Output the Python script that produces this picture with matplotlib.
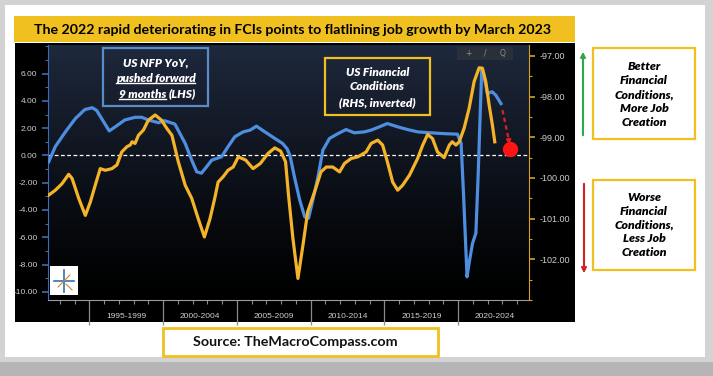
import numpy as np
import matplotlib.pyplot as plt
from matplotlib.patches import Rectangle, FancyArrowPatch
from matplotlib.lines import Line2D
from matplotlib.ticker import MultipleLocator, FixedLocator, FuncFormatter
import matplotlib.transforms as mtransforms

# US NFP YoY, pushed forward 9 months (LHS, %)
nfp_x = [1992.25, 1992.7, 1993.4, 1994.05, 1994.7, 1995.2, 1995.5, 1995.97, 1996.35, 1996.76,
         1997.4, 1998.1, 1998.56, 1999.0, 1999.7, 2000.1, 2000.8, 2001.5, 2001.94, 2002.28,
         2002.6, 2002.95, 2003.3, 2003.96, 2004.4, 2004.86, 2005.43, 2005.9, 2006.33, 2006.8,
         2007.57, 2008.1, 2008.4, 2008.6, 2008.9, 2009.26, 2009.6, 2009.86, 2010.15, 2010.5,
         2010.83, 2011.28, 2011.85, 2012.4, 2012.97, 2013.65, 2014.1, 2014.55, 2015.2, 2015.9,
         2016.57, 2017.25, 2018.15, 2019.05, 2019.95, 2020.2, 2020.36, 2020.6, 2020.74, 2020.97,
         2021.2, 2021.35, 2021.5, 2021.6, 2021.76, 2021.98, 2022.3, 2022.55, 2022.9]
nfp_y = [-0.46, 0.66, 1.76, 2.7, 3.37, 3.5, 3.3, 2.47, 1.8, 2.1,
         2.6, 2.8, 2.8, 2.6, 2.4, 2.55, 2.3, 0.88, -0.34, -1.2,
         -1.3, -0.83, -0.34, -0.1, 0.64, 1.37, 1.73, 1.86, 2.15, 1.8,
         1.25, 0.88, 0.5, 0.0, -1.56, -3.27, -4.5, -4.6, -3.27, -1.56,
         0.39, 1.25, 1.6, 1.9, 1.66, 1.73, 1.86, 2.05, 2.34, 2.1,
         1.9, 1.73, 1.66, 1.6, 1.56, 0.88, -2.78, -8.9, -7.9, -6.45,
         -5.7, -1.56, 3.3, 6.37, 5.77, 4.54, 4.67, 4.42, 3.8]

# US Financial Conditions (RHS, inverted)
fci_x = [1992.25, 1992.7, 1993.15, 1993.6, 1993.83, 1994.28, 1994.73, 1995.07, 1995.4, 1995.74,
         1996.08, 1996.53, 1996.87, 1997.2, 1997.55, 1997.77, 1997.9, 1998.1, 1998.33, 1998.67,
         1999.0, 1999.46, 1999.9, 2000.25, 2000.6, 2001.03, 2001.5, 2001.94, 2002.38, 2002.8,
         2003.18, 2003.5, 2003.73, 2004.07, 2004.4, 2004.75, 2005.1, 2005.6, 2006.1, 2006.6,
         2007.1, 2007.57, 2007.97, 2008.3, 2008.5, 2008.8, 2009.14, 2009.48, 2009.8, 2010.27,
         2010.7, 2011.06, 2011.5, 2011.96, 2012.3, 2012.75, 2013.2, 2013.76, 2014.1, 2014.55,
         2014.88, 2015.2, 2015.56, 2015.9, 2016.23, 2016.7, 2017.25, 2017.6, 2017.93, 2018.26,
         2018.6, 2019.05, 2019.4, 2019.6, 2019.85, 2020.07, 2020.4, 2020.74, 2021.08, 2021.42,
         2021.64, 2021.87, 2022.1, 2022.32, 2022.48]
fci_y = [-100.42, -100.3, -100.14, -99.91, -100.01, -100.5, -100.92, -100.59, -100.18, -99.77,
         -99.81, -99.77, -99.68, -99.36, -99.23, -99.19, -99.11, -99.15, -98.95, -98.82,
         -98.58, -98.45, -98.58, -98.78, -98.95, -99.6, -100.18, -100.5, -101.0, -101.45,
         -101.0, -100.5, -100.1, -99.97, -99.81, -99.73, -99.48, -99.56, -99.77, -99.64,
         -99.4, -99.26, -99.34, -99.6, -100.42, -101.49, -102.47, -101.65, -100.83, -100.34,
         -99.85, -99.73, -99.73, -99.85, -99.64, -99.52, -99.48, -99.36, -99.15, -99.07,
         -99.19, -99.6, -100.1, -100.3, -100.18, -99.93, -99.52, -99.19, -98.93, -99.03,
         -99.36, -99.5, -99.19, -99.11, -99.19, -99.11, -98.78, -98.29, -97.63, -97.29,
         -97.3, -97.63, -98.21, -98.7, -99.11]

# projected path (March 2023)
proj_x = [2023.0, 2023.45]
proj_y = [-98.33, -99.1]
dot_x, dot_y = 2023.5, -99.29

period_starts = [1995, 2000, 2005, 2010, 2015, 2020]
period_labels = ["1995-1999", "2000-2004", "2005-2009", "2010-2014", "2015-2019", "2020-2024"]

W, H = 713, 376
BLUE = "#4d8ee0"
ORANGE = "#f4b328"
YEL = "#f0c020"
LAB = "#cfcfcf"


def fx(px):
    return px / W


def fy(py):
    return 1 - py / H


fig = plt.figure(figsize=(7.13, 3.76), dpi=100, facecolor="#d3d3d3")


def box(x0, y0, x1, y1, fc, ec="none", lw=0, z=0):
    fig.add_artist(Rectangle((fx(x0), fy(y1)), fx(x1) - fx(x0), fy(y0) - fy(y1),
                             transform=fig.transFigure, facecolor=fc, edgecolor=ec,
                             linewidth=lw, zorder=z))


def fline(x0, y0, x1, y1, color, lw=1, z=5):
    fig.add_artist(Line2D([fx(x0), fx(x1)], [fy(y0), fy(y1)], transform=fig.transFigure,
                          color=color, lw=lw, zorder=z))


# card + panels
box(0, 362, 713, 376, "#b5b5b5")
box(5, 5, 705, 357, "white")
box(14, 16, 575, 42, YEL)
box(15, 43, 575, 322, "black")
box(163, 328, 438, 356, "white", ec=YEL, lw=2)

fig.text(fx(293), fy(29.5), "The 2022 rapid deteriorating in FCIs points to flatlining job growth by March 2023",
         family="Lato", weight="bold", fontsize=10.15, ha="center", va="center", color="black")
fig.text(fx(295), fy(342), "Source: TheMacroCompass.com", family="Lato", weight="bold",
         fontsize=10.3, ha="center", va="center", color="#111111")

# axes
ax = fig.add_axes([fx(48), fy(300), fx(529) - fx(48), fy(45) - fy(300)])
ax.set_facecolor("black")
grad = np.linspace(0, 1, 256)[:, None]
grad = np.dstack([0.12 * grad ** 1.2, 0.16 * grad ** 1.2, 0.24 * grad ** 1.2])
ax.imshow(grad, extent=[0, 1, 0, 1], transform=ax.transAxes, aspect="auto", origin="lower", zorder=0)

ax.plot(nfp_x, nfp_y, color=BLUE, lw=2.3, zorder=3, solid_joinstyle="round")
ax.axhline(0, color="white", lw=0.9, ls=(0, (3, 2)), zorder=2)
ax.set_xlim(1992.2, 2024.8)
ax.set_ylim(-10.6, 8.1)

ax2 = ax.twinx()
ax2.plot(fci_x, fci_y, color=ORANGE, lw=2.3, zorder=3, solid_joinstyle="round")
ax2.plot(proj_x, proj_y, color="#e02020", lw=1.6, ls=(0, (2, 1.5)), zorder=4)
ax2.annotate("", xy=(proj_x[1] + 0.02, proj_y[1] - 0.08), xytext=(proj_x[1] - 0.03, proj_y[1] + 0.05),
             arrowprops=dict(arrowstyle="-|>", color="#e02020", lw=1.2, mutation_scale=7))
ax2.plot(dot_x, dot_y, "o", color="#ff1414", ms=10, zorder=5)
ax2.set_ylim(-103.0, -96.73)

# spines / ticks
for s in ["top", "right"]:
    ax.spines[s].set_visible(False)
for s in ["top", "left", "bottom"]:
    ax2.spines[s].set_visible(False)
ax.spines["left"].set_color("#3a6db5")
ax.spines["bottom"].set_color("#9a9a9a")
ax2.spines["right"].set_color("#d9a020")

ax.yaxis.set_major_locator(FixedLocator(np.arange(-10, 7, 2)))
ax.yaxis.set_minor_locator(MultipleLocator(1))
ax.yaxis.set_major_formatter(FuncFormatter(lambda v, p: f"{v:.2f}"))
ax.tick_params(axis="y", which="major", colors="#3a6db5", labelcolor=LAB, labelsize=6,
               length=4, width=1.2, direction="out", labelfontfamily="Liberation Sans")
ax.tick_params(axis="y", which="minor", colors="#3a6db5", length=2, width=0.8)

ax2.yaxis.set_major_locator(FixedLocator(np.arange(-102, -96.5, 1)))
ax2.yaxis.set_minor_locator(MultipleLocator(0.5))
ax2.yaxis.set_major_formatter(FuncFormatter(lambda v, p: f"{v:.2f}"))
ax2.tick_params(axis="y", which="major", colors="#d9a020", labelcolor=LAB, labelsize=6.5,
                length=4, width=1.2, direction="out", labelfontfamily="Liberation Sans")
ax2.tick_params(axis="y", which="minor", colors="#d9a020", length=2, width=0.8)

ax.xaxis.set_major_locator(FixedLocator(period_starts))
ax.xaxis.set_minor_locator(MultipleLocator(1))
ax.tick_params(axis="x", which="major", colors="#8a8a8a", length=18, width=0.9, labelbottom=False)
ax.tick_params(axis="x", which="minor", colors="#8a8a8a", length=3, width=0.8)
trans = mtransforms.blended_transform_factory(ax.transData, ax.transAxes)
for start, lab in zip(period_starts, period_labels):
    ax.text(start + 2.5, -0.063, lab, transform=trans, ha="center", va="center",
            fontsize=6, color=LAB, family="Liberation Sans")

# logo
box(50, 266, 78, 295, "white", z=6)
fline(64, 270, 64, 292, "#2f6fb8", 1.2, 7)
fline(54, 281, 74, 281, "#2f6fb8", 1.2, 7)
fline(58, 287, 70, 275, "#e08020", 0.8, 7)
fline(66, 284, 72, 290, "#e08020", 0.8, 7)

# toolbar
box(457, 47, 513, 60, "#2a3039", z=6)
for px, g in zip([468, 485, 503], ["+", "/", "Q"]):
    fig.text(fx(px), fy(53.5), g, fontsize=5.5, color="#8a8f98", ha="center", va="center", zorder=7)

# series text boxes
box(103, 48, 208, 106, "none", ec="#5a8cc8", lw=1.6, z=6)
box(325, 58, 430, 115, "none", ec=YEL, lw=1.6, z=6)
tk = dict(family="Lato", weight="heavy", style="italic", fontsize=8.6, color="white",
          va="center", zorder=7)
fig.text(fx(155.5), fy(63), "US NFP YoY,", ha="center", **tk)
t_pf = fig.text(fx(155.5), fy(78), "pushed forward", ha="center", **tk)
t_9m = fig.text(fx(166), fy(94), "9 months", ha="right", **tk)
fig.text(fx(169), fy(94), "(LHS)", ha="left", **tk)
fig.text(fx(377.5), fy(72), "US Financial", ha="center", **tk)
fig.text(fx(377.5), fy(87), "Conditions", ha="center", **tk)
fig.text(fx(377.5), fy(103), "(RHS, inverted)", ha="center", **tk)

# right side annotations
box(593, 48, 695, 139, "white", ec=YEL, lw=1.6, z=6)
box(593, 180, 695, 270, "white", ec=YEL, lw=1.6, z=6)
ann = dict(family="Lato", weight="heavy", style="italic", fontsize=8.8, color="black",
           ha="center", va="center", linespacing=1.32, zorder=7)
fig.text(fx(644), fy(94.5), "Better\nFinancial\nConditions,\nMore Job\nCreation", **ann)
fig.text(fx(644), fy(225), "Worse\nFinancial\nConditions,\nLess Job\nCreation", **ann)
fig.add_artist(FancyArrowPatch((fx(583), fy(138)), (fx(583), fy(49)), transform=fig.transFigure,
                               arrowstyle="-|>", mutation_scale=7, color="#2ea84a", lw=1.5, zorder=7))
fig.add_artist(FancyArrowPatch((fx(584), fy(181)), (fx(584), fy(276)), transform=fig.transFigure,
                               arrowstyle="-|>", mutation_scale=7, color="#d02424", lw=1.5, zorder=7))

# underlines
fig.canvas.draw()
r = fig.canvas.get_renderer()
for t in [t_pf, t_9m]:
    bb = t.get_window_extent(r)
    y = bb.y0 + 0.5
    fig.add_artist(Line2D([bb.x0 / W, bb.x1 / W], [y / H, y / H], transform=fig.transFigure,
                          color="white", lw=1.0, zorder=7))

fig.savefig("out.png", dpi=100, facecolor=fig.get_facecolor())
